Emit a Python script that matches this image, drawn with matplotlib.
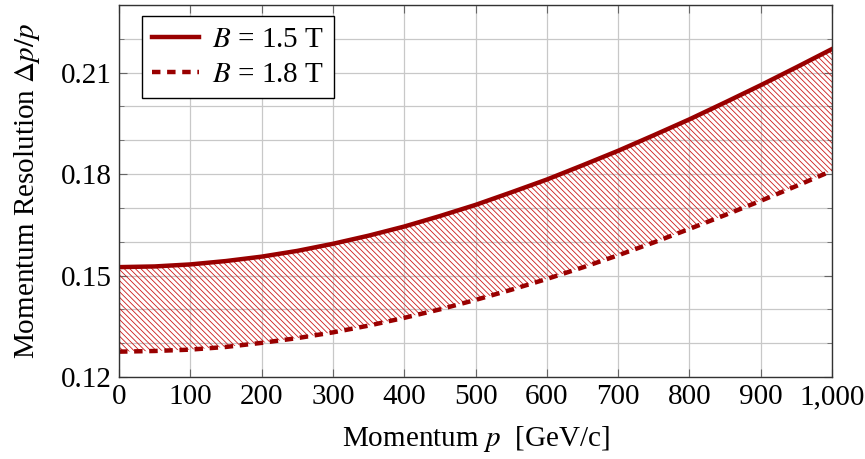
import matplotlib.pyplot as plt
from matplotlib.ticker import MultipleLocator, FuncFormatter
import numpy as np

plt.rcParams['font.family'] = 'Liberation Serif'
plt.rcParams['mathtext.fontset'] = 'stix'
plt.rcParams['hatch.linewidth'] = 0.6

# momentum values [GeV/c]
p = [0, 50, 100, 150, 200, 250, 300, 350, 400, 450, 500,
     550, 600, 650, 700, 750, 800, 850, 900, 950, 1000]
# resolution, B = 1.5 T
res_15 = [0.1525, 0.1527, 0.1533, 0.1543, 0.1556, 0.1573, 0.1594, 0.1618,
          0.1645, 0.1676, 0.1709, 0.1746, 0.1784, 0.1826, 0.1869, 0.1915,
          0.1962, 0.2012, 0.2063, 0.2116, 0.2170]
# resolution, B = 1.8 T
res_18 = [0.1275, 0.1277, 0.1281, 0.1289, 0.1301, 0.1315, 0.1332, 0.1352,
          0.1375, 0.1400, 0.1428, 0.1458, 0.1490, 0.1524, 0.1560, 0.1598,
          0.1638, 0.1679, 0.1721, 0.1765, 0.1810]

red = '#990000'
fs = 21

fig = plt.figure(figsize=(8.65, 4.59), dpi=100)
ax = fig.add_axes([0.1376, 0.1786, 0.8243, 0.8104])

ax.fill_between(p, res_18, res_15, facecolor='none', edgecolor='#cc1a1a',
                hatch='\\' * 6, linewidth=0)
ax.plot(p, res_15, color=red, lw=3.2, label=r'$B$ = 1.5 T')
ax.plot(p, res_18, color=red, lw=3.2, dashes=(1.9, 1.5),
        label=r'$B$ = 1.8 T')

ax.set_xlim(0, 1000)
ax.set_ylim(0.12, 0.23)
ax.xaxis.set_major_locator(MultipleLocator(100))
ax.yaxis.set_major_locator(MultipleLocator(0.03))
ax.yaxis.set_minor_locator(MultipleLocator(0.01))
ax.xaxis.set_major_formatter(FuncFormatter(lambda v, pos: f'{int(v):,}'))
ax.yaxis.set_major_formatter(FuncFormatter(lambda v, pos: f'{v:.2f}'))

ax.grid(which='both', color='#c8c8c8', lw=0.9)
ax.set_axisbelow(True)
ax.tick_params(which='both', direction='in', top=True, right=True,
               labelsize=fs, color='#666666', pad=5)
ax.tick_params(which='major', length=6)
ax.tick_params(which='minor', length=3.5)
for s in ax.spines.values():
    s.set_color('#333333')
    s.set_linewidth(1.0)

ax.set_xlabel(r'Momentum $p$  [GeV/c]', fontsize=fs, labelpad=10)
ax.set_ylabel(r'Momentum Resolution $\Delta p/p$', fontsize=fs, labelpad=14)

leg = ax.legend(loc='upper left', bbox_to_anchor=(0.032, 0.97), fontsize=fs,
                fancybox=False, framealpha=1, edgecolor='black',
                handlelength=1.6, borderpad=0.35, labelspacing=0.3,
                handletextpad=0.45, borderaxespad=0)
leg.get_frame().set_linewidth(1.0)

fig.savefig('out.png', dpi=100)
